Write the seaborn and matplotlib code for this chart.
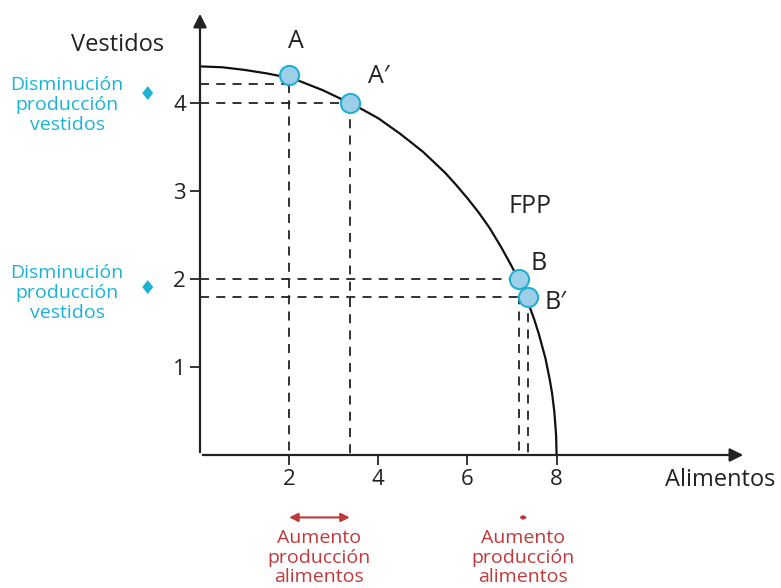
import numpy as np
import pandas as pd
import seaborn as sns
import matplotlib.pyplot as plt

# frontera de posibilidades de producción
fpp_alimentos = [0, 0.5, 1, 1.5, 2, 2.25, 2.5, 2.75, 3, 3.25, 3.5, 3.75, 4, 4.25, 4.5, 4.75, 5, 5.25,
                 5.5, 5.75, 6, 6.25, 6.5, 6.75, 7, 7.1, 7.25, 7.4, 7.5, 7.6, 7.75, 7.85, 7.9, 7.95,
                 7.99, 8]
fpp_vestidos = [4.42, 4.41, 4.38, 4.34, 4.29, 4.25, 4.20, 4.15, 4.09, 4.03, 3.97, 3.90, 3.83, 3.74,
                3.65, 3.55, 3.45, 3.33, 3.21, 3.07, 2.92, 2.76, 2.58, 2.37, 2.14, 2.04, 1.87, 1.68,
                1.54, 1.38, 1.10, 0.85, 0.70, 0.49, 0.22, 0]

# puntos sobre la curva
puntos = ["A", "A′", "B", "B′"]
puntos_x = [2.0, 3.36, 7.15, 7.35]
puntos_y = [4.32, 4.0, 2.0, 1.8]
# niveles de las líneas guía
guia_y = [4.22, 4.0, 2.0, 1.8]

x_ticks = [2, 4, 6, 8]
y_ticks = [1, 2, 3, 4]

azul = "#1ab3d6"
rojo = "#c0393b"

sns.set_style("white")
plt.rcParams["font.family"] = ["Open Sans", "DejaVu Sans"]

fig = plt.figure(figsize=(7.81, 5.88), dpi=100)
ax = fig.add_axes([200 / 781, 133 / 588, 546 / 781, 444 / 588])
ax.set_xlim(0, 12.25)
ax.set_ylim(0, 5.05)
for s in ax.spines.values():
    s.set_visible(False)

# ejes con flecha
ax.annotate("", xy=(1, 0), xytext=(0, 0), xycoords="axes fraction",
            arrowprops=dict(arrowstyle="-|>", color="#222222", lw=1.6, mutation_scale=20))
ax.annotate("", xy=(0, 1), xytext=(0, 0), xycoords="axes fraction",
            arrowprops=dict(arrowstyle="-|>", color="#222222", lw=1.6, mutation_scale=20))

# líneas guía discontinuas
for px, gy in zip(puntos_x, guia_y):
    ax.plot([0, px], [gy, gy], ls=(0, (5, 4)), color="#222222", lw=1.3)
    ax.plot([px, px], [gy, 0], ls=(0, (5, 4)), color="#222222", lw=1.3)

curva = pd.DataFrame({"Alimentos": fpp_alimentos, "Vestidos": fpp_vestidos})
sns.lineplot(data=curva, x="Alimentos", y="Vestidos", color="#111111", lw=1.6, sort=False,
             solid_joinstyle="round", ax=ax)

pts = pd.DataFrame({"x": puntos_x, "y": puntos_y})
sns.scatterplot(data=pts, x="x", y="y", s=190, color="#9dd0e8", edgecolor="#1fb0d6",
                linewidth=1.5, zorder=5, ax=ax)

ax.set_xlabel("")
ax.set_ylabel("")
ax.set_xticks(x_ticks)
ax.set_yticks(y_ticks)
ax.tick_params(direction="out", length=7, width=1.3, color="#222222", labelsize=16,
               labelcolor="#222222", pad=3, bottom=True, left=True)

# etiquetas de los puntos
off = {"A": (0.15, 0.38), "A′": (0.65, 0.3), "B": (0.45, 0.18), "B′": (0.62, -0.07)}
for n, px, py in zip(puntos, puntos_x, puntos_y):
    dx, dy = off[n]
    ax.text(px + dx, py + dy, n, fontsize=18, ha="center", va="center", color="#222222")
ax.text(7.4, 2.83, "FPP", fontsize=18, ha="center", va="center", color="#222222")

fig.text(118 / 781, 1 - 45 / 588, "Vestidos", fontsize=17, ha="center", va="center", color="#222222")
fig.text(720 / 781, 1 - 480 / 588, "Alimentos", fontsize=17, ha="center", va="center", color="#222222")

# anotaciones laterales
for yc, yd in [(105, 94), (293, 289)]:
    fig.text(67 / 781, 1 - yc / 588, "Disminución\nproducción\nvestidos", fontsize=14,
             ha="center", va="center", color=azul, linespacing=1.13)
    fig.text(147 / 781, 1 - yd / 588, "♦", fontsize=14, ha="center", va="center", color=azul,
             family=["DejaVu Sans"])

for x0, x1, ms in [(puntos_x[0], puntos_x[1], 13), (puntos_x[2], puntos_x[3], 4)]:
    ax.annotate("", xy=(x1, -0.71), xytext=(x0, -0.71), xycoords="data",
                arrowprops=dict(arrowstyle="<|-|>", color=rojo, lw=1.5, mutation_scale=ms,
                                shrinkA=0, shrinkB=0), annotation_clip=False)
    ax.text((x0 + x1) / 2, -1.17, "Aumento\nproducción\nalimentos", fontsize=14,
            ha="center", va="center", color=rojo, linespacing=1.1, clip_on=False)

fig.savefig("out.png", dpi=100)
